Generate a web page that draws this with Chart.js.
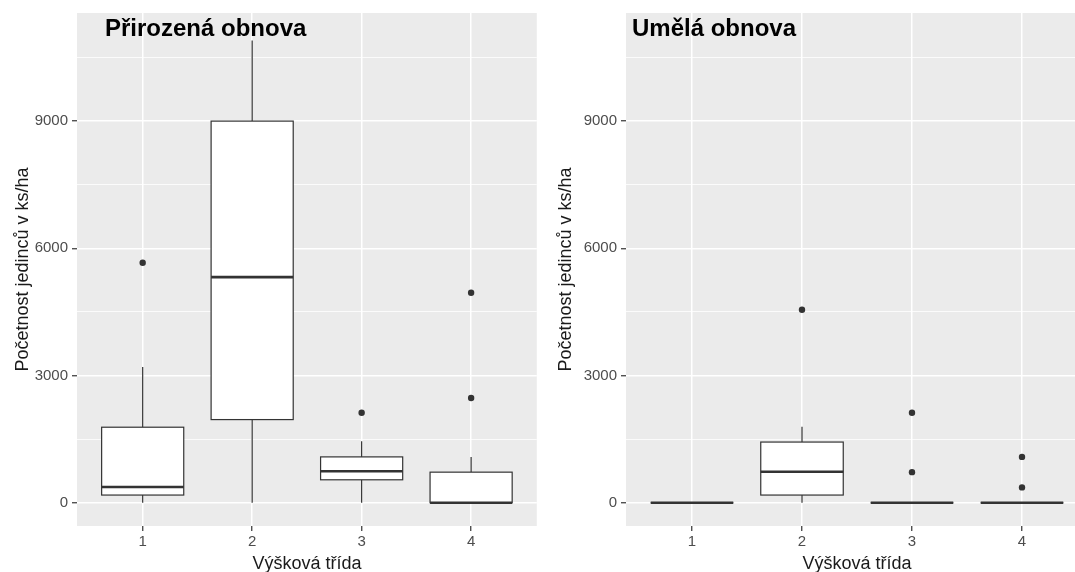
<!DOCTYPE html>
<html lang="cs">
<head>
<meta charset="utf-8">
<title>Početnost jedinců podle výškové třídy</title>
<script src="https://cdn.jsdelivr.net/npm/chart.js@4.4.1/dist/chart.umd.min.js"></script>
<style>
  html, body { margin: 0; padding: 0; background: #fff; }
  #wrap { position: relative; width: 1075px; height: 572px; overflow: hidden; }
  #leftBox { position: absolute; left: 0; top: 0; }
  #rightBox { position: absolute; left: 540px; top: 0; }
</style>
</head>
<body>
<div id="wrap">
  <div id="leftBox"><canvas id="natChart" width="540" height="572"></canvas></div>
  <div id="rightBox"><canvas id="artChart" width="560" height="572"></canvas></div>
</div>
<script>
const categories = ['1', '2', '3', '4'];
const majorStep = 3000;
const minorStep = 1500;

// Přirozená obnova
const natLow = [0, 0, 0, 0];
const natQ1 = [180, 1960, 540, 0];
const natMedian = [370, 5320, 740, 0];
const natQ3 = [1780, 9000, 1080, 720];
const natHigh = [3200, 10900, 1450, 1080];
const natOutliers = [[5660], [], [2120], [2470, 4950]];

// Umělá obnova
const artLow = [0, 0, 0, 0];
const artQ1 = [0, 180, 0, 0];
const artMedian = [0, 730, 0, 0];
const artQ3 = [0, 1430, 0, 0];
const artHigh = [0, 1790, 0, 0];
const artOutliers = [[], [4550], [720, 2120], [360, 1080]];

const FONT = "'Liberation Sans', Arial, sans-serif";
const INK = '#333333';

// gray ggplot panel
const panelBg = {
  id: 'panelBg',
  beforeDraw(chart) {
    const { ctx, chartArea: a } = chart;
    ctx.save();
    ctx.fillStyle = '#EBEBEB';
    ctx.fillRect(a.left, a.top, a.right - a.left, a.bottom - a.top);
    ctx.restore();
  }
};

// box + whiskers + median, placed with the chart scales
const boxes = {
  id: 'boxes',
  beforeDatasetsDraw(chart, args, opts) {
    const { ctx, chartArea: a, scales: { x, y } } = chart;
    const half = x.getPixelForValue(1 + opts.width / 2) - x.getPixelForValue(1);
    ctx.save();
    ctx.beginPath();
    ctx.rect(a.left, a.top, a.right - a.left, a.bottom - a.top);
    ctx.clip();
    ctx.strokeStyle = INK;
    opts.q1.forEach((q1, i) => {
      const cx = x.getPixelForValue(i + 1);
      const yLow = y.getPixelForValue(opts.low[i]);
      const yQ1 = y.getPixelForValue(q1);
      const yMed = y.getPixelForValue(opts.median[i]);
      const yQ3 = y.getPixelForValue(opts.q3[i]);
      const yHigh = y.getPixelForValue(opts.high[i]);

      ctx.lineWidth = 1.2;
      ctx.beginPath();
      ctx.moveTo(cx, yQ3); ctx.lineTo(cx, yHigh);
      ctx.moveTo(cx, yQ1); ctx.lineTo(cx, yLow);
      ctx.stroke();

      ctx.fillStyle = '#FFFFFF';
      ctx.fillRect(cx - half, yQ3, half * 2, yQ1 - yQ3);
      ctx.strokeRect(cx - half, yQ3, half * 2, yQ1 - yQ3);

      ctx.lineWidth = 2.6;
      ctx.beginPath();
      ctx.moveTo(cx - half, yMed); ctx.lineTo(cx + half, yMed);
      ctx.stroke();
    });
    ctx.restore();
  }
};

// panel heading drawn inside the gray area
const panelTitle = {
  id: 'panelTitle',
  afterDraw(chart, args, opts) {
    const { ctx, chartArea: a } = chart;
    ctx.save();
    ctx.font = 'bold 24px ' + FONT;
    ctx.fillStyle = '#000000';
    ctx.textBaseline = 'alphabetic';
    ctx.fillText(opts.text, a.left + opts.dx, a.top + opts.dy);
    ctx.restore();
  }
};

function makePanel(id, s) {
  const points = [];
  s.outliers.forEach((vals, i) => vals.forEach(v => points.push({ x: i + 1, y: v })));

  return new Chart(document.getElementById(id), {
    type: 'scatter',
    data: {
      datasets: [{
        data: points,
        pointRadius: 3.2,
        pointHoverRadius: 3.2,
        pointBackgroundColor: INK,
        pointBorderWidth: 0
      }]
    },
    plugins: [panelBg, boxes, panelTitle],
    options: {
      responsive: false,
      animation: false,
      devicePixelRatio: 1,
      layout: { padding: { top: 13, right: s.padRight, left: 0, bottom: 0 } },
      plugins: {
        legend: { display: false },
        tooltip: { enabled: false },
        boxes: { width: 0.75, low: s.low, q1: s.q1, median: s.median, q3: s.q3, high: s.high },
        panelTitle: { text: s.title, dx: s.titleDx, dy: 23 }
      },
      scales: {
        x: {
          type: 'linear',
          min: 0.4,
          max: 4.6,
          afterBuildTicks: sc => { sc.ticks = categories.map((c, i) => ({ value: i + 1 })); },
          afterFit: sc => { sc.height = 46; },
          border: { display: false },
          grid: { color: '#FFFFFF', lineWidth: 1.5, tickColor: INK, tickWidth: 1.2, tickLength: 5 },
          ticks: {
            autoSkip: false,
            maxRotation: 0,
            padding: 2,
            color: '#4D4D4D',
            font: { family: FONT, size: 15 },
            callback: v => categories[v - 1]
          },
          title: {
            display: true,
            text: 'Výšková třída',
            color: '#1A1A1A',
            font: { family: FONT, size: 18 },
            padding: { top: 0, bottom: -3 }
          }
        },
        y: {
          min: -550,
          max: 11550,
          afterBuildTicks: sc => {
            const t = [];
            for (let v = 0; v <= sc.max; v += minorStep) t.push({ value: v });
            sc.ticks = t;
          },
          afterFit: sc => { sc.width = s.axisWidth; },
          border: { display: false },
          grid: {
            color: '#FFFFFF',
            lineWidth: c => (c.tick && c.tick.value % majorStep ? 0.8 : 1.5),
            tickColor: c => (c.tick && c.tick.value % majorStep ? 'rgba(0,0,0,0)' : INK),
            tickWidth: 1.2,
            tickLength: 5
          },
          ticks: {
            autoSkip: false,
            padding: 4,
            color: '#4D4D4D',
            font: { family: FONT, size: 15 },
            callback: v => (v % majorStep ? '' : String(v))
          },
          title: {
            display: true,
            text: 'Početnost jedinců v ks/ha',
            color: '#1A1A1A',
            font: { family: FONT, size: 18 },
            padding: { top: s.titlePad, bottom: 0 }
          }
        }
      }
    }
  });
}

makePanel('natChart', {
  title: 'Přirozená obnova', titleDx: 28, axisWidth: 77, titlePad: 12, padRight: 1,
  low: natLow, q1: natQ1, median: natMedian, q3: natQ3, high: natHigh, outliers: natOutliers
});

makePanel('artChart', {
  title: 'Umělá obnova', titleDx: 6, axisWidth: 86, titlePad: 15, padRight: 12,
  low: artLow, q1: artQ1, median: artMedian, q3: artQ3, high: artHigh, outliers: artOutliers
});
</script>
</body>
</html>
